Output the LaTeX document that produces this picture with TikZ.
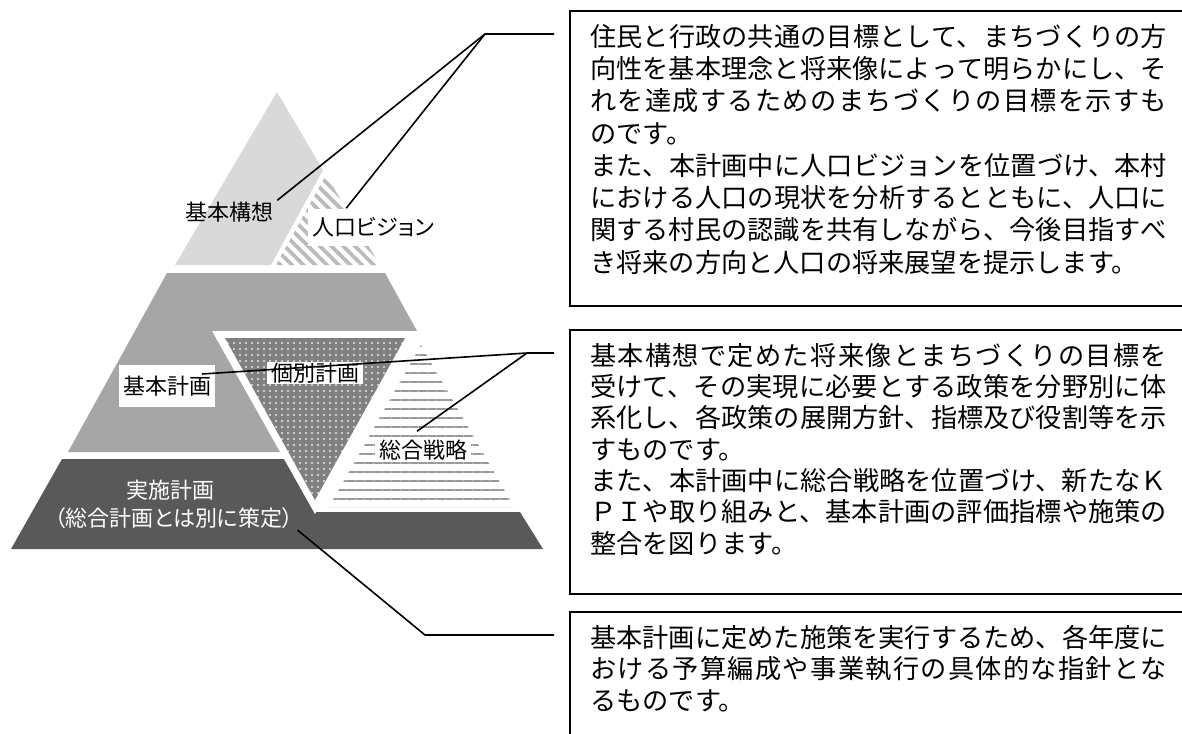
\documentclass[tikz,border=0pt]{standalone}
\usepackage{fontspec}
\usepackage{tikz}
\usetikzlibrary{positioning, calc, patterns.meta}
\newfontfamily\gothicjp[RawFeature=+palt]{Noto Sans CJK JP}
\newfontfamily\bodyjp{Noto Sans CJK JP}
\XeTeXlinebreaklocale "ja"
\XeTeXlinebreakskip=0pt plus 1.5pt

\begin{document}
\begin{tikzpicture}[
        x=0.75pt, y=-0.75pt,
        tag/.style={font=\gothicjp\fontsize{16.5pt}{19pt}\selectfont, inner xsep=3pt, inner ysep=1pt},
        plate/.style={tag, fill=white},
        framebox/.style={draw=black, line width=1.2pt, anchor=north west, minimum width=500pt, inner sep=0pt},
        desctext/.style={font=\bodyjp\fontsize{19.65pt}{23.5pt}\selectfont, text width=432.6pt, align=justify, anchor=north west, inner sep=0pt},
        leader/.style={line width=1.2pt}
    ]
        \useasboundingbox (0,0) rectangle (1182,733);
        \clip (0,0) rectangle (1182,733);

        % Tiers
        \fill[black!15] (277,92) -- (323,170) -- (271,265) -- (175,265) -- cycle;
        \fill[white] (326,175) -- (380,265) -- (276,265) -- cycle;
        \pattern[pattern={Lines[angle=-45, distance=6.2pt, line width=2.8pt]}, pattern color=black!27] (326,175) -- (380,265) -- (276,265) -- cycle;
        \fill[black!35] (167,273) -- (385,273) -- (417,331) -- (340,452) -- (68,452) -- cycle;
        \fill[black!65] (62,459) -- (290,459) -- (316,512) -- (520,512) -- (543,549) -- (11,549) -- cycle;
        \fill[white] (212,331) -- (418,331) -- (315,514) -- cycle;
        \fill[black!50] (225,338) -- (405,338) -- (315,500) -- cycle;
        \pattern[pattern={Dots[radius=0.85pt, distance=4.5pt]}, pattern color=black!10] (225,338) -- (405,338) -- (315,500) -- cycle;
        \fill[white] (421,345) -- (514,507) -- (329,507) -- cycle;
        \pattern[pattern={Lines[distance=6.75pt, line width=2.2pt]}, pattern color=black!40] (421,345) -- (514,507) -- (329,507) -- cycle;

        % Labels
        \node[tag] (kousoulabel) at (229,212) {基本構想};
        \node[plate, minimum width=82.5pt, minimum height=27.75pt] (jinkoulabel) at (373,227) {人口ビジョン};
        \node[plate, minimum width=68.25pt, minimum height=31.5pt] (keikakulabel) at (167,386) {基本計画};
        \node[plate] (kobetsulabel) at (315,373) {個別計画};
        \node[plate] (senryakulabel) at (423,450) {総合戦略};
        \node[tag, text=white] (jisshilabel) at (170,490) {実施計画};
        \node[tag, text=white] (betsulabel) at (174,518) {（総合計画とは別に策定）};

        % Description boxes
        \node[framebox, minimum height=221.25pt] (kousoubox) at (569,10) {};
        \node[framebox, minimum height=198pt] (keikakubox) at (569,329) {};
        \node[framebox, minimum height=112.5pt] (jisshibox) at (569,611) {};

        \node[desctext, font=\bodyjp\fontsize{19.65pt}{24.2pt}\selectfont] (kousoutext) at ([xshift=15.75pt, yshift=-10.5pt]kousoubox.north west) {住民と行政の共通の目標として、まちづくりの方\linebreak
            向性を基本理念と将来像によって明らかにし、そ\linebreak
            れを達成するためのまちづくりの目標を示すも\linebreak
            のです。\\
            また、本計画中に人口ビジョンを位置づけ、本村\linebreak
            における人口の現状を分析するとともに、人口に\linebreak
            関する村民の認識を共有しながら、今後目指すべ\linebreak
            き将来の方向と人口の将来展望を提示します。};
        \node[desctext] (keikakutext) at ([xshift=15.75pt, yshift=-10.5pt]keikakubox.north west) {基本構想で定めた将来像とまちづくりの目標を\linebreak
            受けて、その実現に必要とする政策を分野別に体\linebreak
            系化し、各政策の展開方針、指標及び役割等を示\linebreak
            すものです。\\
            また、本計画中に総合戦略を位置づけ、新たなＫ\linebreak
            ＰＩや取り組みと、基本計画の評価指標や施策の\linebreak
            整合を図ります。};
        \node[desctext] (jisshitext) at ([xshift=15.75pt, yshift=-10.5pt]jisshibox.north west) {基本計画に定めた施策を実行するため、各年度に\linebreak
            おける予算編成や事業執行の具体的な指針とな\linebreak
            るものです。};

        % Leaders
        \coordinate (kousoujoin) at (485,34);
        \coordinate (kousoutip) at ([xshift=-11.25pt, yshift=-18pt]kousoubox.north west);
        \coordinate (keikakujoin) at (527,353);
        \coordinate (keikakutip) at ([xshift=-11.25pt, yshift=-18pt]keikakubox.north west);
        \coordinate (jisshijoin) at (425,635);
        \coordinate (jisshitip) at ([xshift=-11.25pt, yshift=-18pt]jisshibox.north west);

        \draw[leader] (kousoutip) -- (kousoujoin) -- (kousoulabel.north east);
        \draw[leader] (kousoujoin) -- (jinkoulabel.145);
        \draw[leader] (keikakutip) -- (keikakujoin) -- ($(keikakulabel.center)+(35,-12)$);
        \draw[leader] (keikakujoin) -- ($(senryakulabel.north)+(-6,-7)$);
        \draw[leader] (betsulabel.south east) -- (jisshijoin) -- (jisshitip);

    \end{tikzpicture}
\end{document}
